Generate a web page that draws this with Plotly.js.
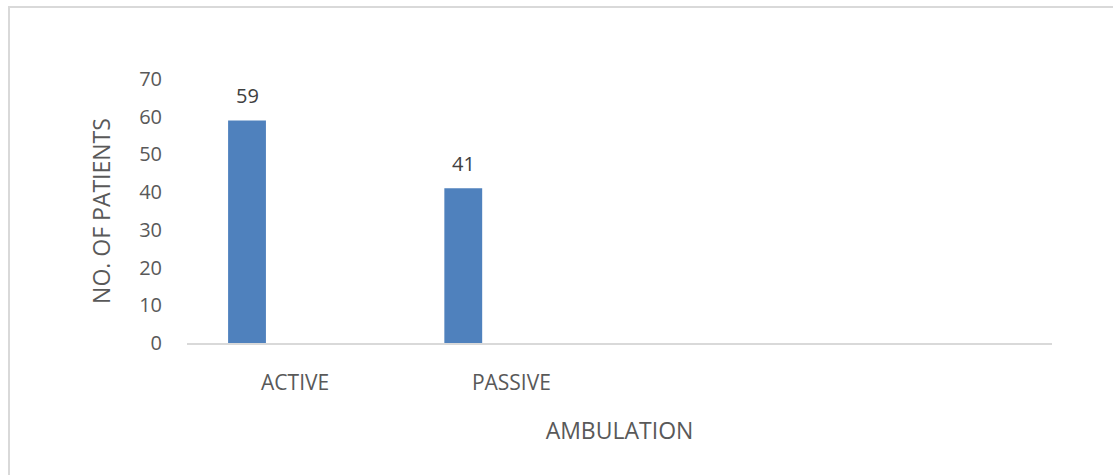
<!DOCTYPE html>
<html>
<head>
<meta charset="utf-8">
<script src="https://cdn.plot.ly/plotly-3.0.1.min.js"></script>
<style>
  html, body { margin: 0; padding: 0; background: #fff; }
  #chart { width: 1113px; height: 475px; }
</style>
</head>
<body>
<div id="chart"></div>
<script>
// Ambulation type vs. number of patients
const categories = ['ACTIVE', 'PASSIVE'];
const patients = [59, 41];
const slotCount = 4;            // category slots along the x axis
const yTicks = [0, 10, 20, 30, 40, 50, 60, 70];

const barOffset = -0.31;        // bar position inside its category slot
const barWidth = 0.175;
const textColor = '#595959';
const fontFamily = '"Open Sans", "Liberation Sans", sans-serif';

const xs = categories.map((_, i) => i);

const trace = {
  type: 'bar',
  x: xs,
  y: patients,
  offset: barOffset,
  width: barWidth,
  marker: { color: '#4F81BD' },
  hoverinfo: 'x+y',
  showlegend: false
};

// Value labels above each bar
const labels = xs.map((x, i) => ({
  x: x + barOffset + barWidth / 2,
  y: patients[i],
  xref: 'x', yref: 'y',
  text: String(patients[i]),
  showarrow: false,
  yanchor: 'bottom',
  yshift: 9,
  font: { family: fontFamily, size: 20, color: '#404040' }
}));

const layout = {
  width: 1113,
  height: 475,
  margin: { l: 187, r: 61, t: 79, b: 132 },
  paper_bgcolor: '#ffffff',
  plot_bgcolor: '#ffffff',
  font: { family: fontFamily, color: textColor },
  xaxis: {
    range: [-0.5, slotCount - 0.5],
    tickvals: xs,
    ticktext: categories,
    showgrid: false,
    zeroline: false,
    showline: true,
    linecolor: '#D9D9D9',
    linewidth: 2,
    ticks: '',
    ticklabelstandoff: 20,
    tickfont: { family: fontFamily, size: 21, color: textColor },
    title: {
      text: 'AMBULATION',
      font: { family: fontFamily, size: 23, color: textColor },
      standoff: 28
    }
  },
  yaxis: {
    range: [0, 70],
    tickvals: yTicks,
    showgrid: false,
    zeroline: false,
    showline: false,
    ticks: '',
    ticklabelstandoff: 24,
    tickfont: { family: fontFamily, size: 20, color: textColor },
    title: {
      text: 'NO. OF PATIENTS',
      font: { family: fontFamily, size: 23, color: textColor },
      standoff: 22
    }
  },
  annotations: labels,
  shapes: [{
    type: 'rect',
    xref: 'paper', yref: 'paper',
    x0: -0.2058, x1: 1.08,
    y0: -0.6, y1: 1.2727,
    line: { color: '#D9D9D9', width: 2 },
    fillcolor: 'rgba(0,0,0,0)',
    layer: 'below'
  }]
};

Plotly.newPlot('chart', [trace], layout, { displayModeBar: false, staticPlot: true });
</script>
</body>
</html>
